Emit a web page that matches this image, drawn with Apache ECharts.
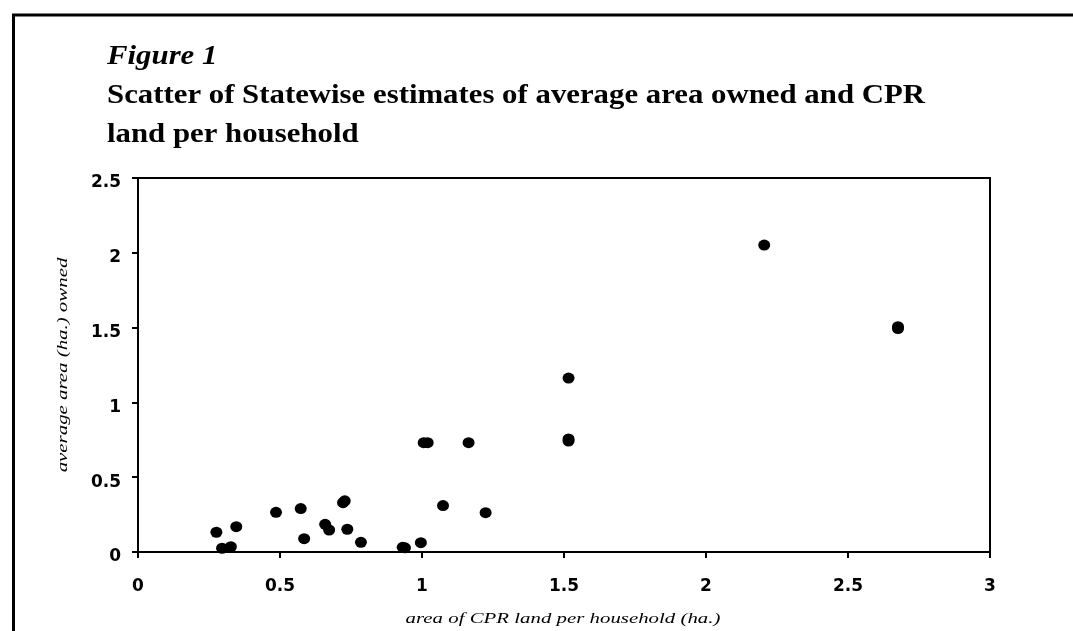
<!DOCTYPE html>
<html>
<head>
<meta charset="utf-8">
<script src="https://cdn.jsdelivr.net/npm/echarts@6/dist/echarts.min.js"></script>
<style>
html,body{margin:0;padding:0;background:#fff;}
#chart{width:1073px;height:631px;}
</style>
</head>
<body>
<div id="chart"></div>
<script>
// CPR land per household (ha.) — x values
var cprLand = [0.276, 0.346, 0.296, 0.327, 0.486, 0.573, 0.585, 0.659, 0.673, 0.722, 0.728, 0.737, 0.785, 0.932, 0.940, 0.996, 1.006, 1.020, 1.074, 1.164, 1.224, 1.516, 1.516, 1.516, 2.205, 2.676, 2.676];
// average area owned (ha.) — y values
var areaOwned = [0.132, 0.169, 0.025, 0.035, 0.265, 0.290, 0.089, 0.185, 0.147, 0.330, 0.342, 0.152, 0.065, 0.031, 0.028, 0.062, 0.731, 0.731, 0.310, 0.731, 0.263, 0.742, 0.756, 1.163, 2.052, 1.494, 1.506];
var xTicks = [0, 0.5, 1, 1.5, 2, 2.5, 3];
var yTicks = [0, 0.5, 1, 1.5, 2, 2.5];
var figureLabel = 'Figure 1';
var titleLines = ['Scatter of Statewise estimates of average area owned and CPR', 'land per household'];
var xName = 'area of CPR land per household (ha.)';
var yName = 'average area (ha.) owned';

var points = cprLand.map(function (x, i) { return [x, areaOwned[i]]; });

var chart = echarts.init(document.getElementById('chart'), null, {renderer: 'canvas'});
var serif = '"Liberation Serif", "Times New Roman", serif';
var sans = '"DejaVu Sans", Arial, sans-serif';

function txt(text, x, y, opts) {
  return {
    type: 'text', x: x, y: y, silent: true,
    scaleX: opts.scaleX || 1, rotation: opts.rotation || 0,
    style: {
      text: text, fill: '#000',
      fontFamily: serif, fontSize: opts.fontSize, fontWeight: opts.fontWeight || 'normal',
      fontStyle: opts.fontStyle || 'normal',
      align: opts.align || 'left', verticalAlign: 'middle'
    }
  };
}

chart.setOption({
  backgroundColor: '#ffffff',
  animation: false,
  graphic: [
    {type: 'line', shape: {x1: 12, y1: 15, x2: 1073, y2: 15}, style: {stroke: '#000', lineWidth: 3}, silent: true},
    {type: 'line', shape: {x1: 13.5, y1: 14, x2: 13.5, y2: 631}, style: {stroke: '#000', lineWidth: 3}, silent: true},
    txt(figureLabel, 107, 57, {fontSize: 28, fontWeight: 'bold', fontStyle: 'italic', scaleX: 1.1}),
    txt(titleLines[0], 107, 96, {fontSize: 28, fontWeight: 'bold', scaleX: 1.1}),
    txt(titleLines[1], 107, 135, {fontSize: 28, fontWeight: 'bold', scaleX: 1.1}),
    txt(xName, 563, 619, {fontSize: 15, fontStyle: 'italic', align: 'center', scaleX: 1.39}),
    txt(yName, 63, 365, {fontSize: 15, fontStyle: 'italic', align: 'center', scaleX: 1.39, rotation: Math.PI / 2})
  ],
  grid: {left: 138, top: 178, width: 852, height: 374, show: true, borderColor: '#000', borderWidth: 2, backgroundColor: 'transparent'},
  xAxis: {
    type: 'value', min: xTicks[0], max: xTicks[xTicks.length - 1], interval: 0.5,
    axisLine: {show: true, onZero: false, lineStyle: {color: '#000', width: 2}},
    axisTick: {show: true, inside: false, length: 6, lineStyle: {color: '#000', width: 2}},
    axisLabel: {fontFamily: sans, fontWeight: 'bold', fontSize: 17, color: '#000', margin: 26},
    splitLine: {show: false}
  },
  yAxis: {
    type: 'value', min: yTicks[0], max: yTicks[yTicks.length - 1], interval: 0.5,
    axisLine: {show: true, onZero: false, lineStyle: {color: '#000', width: 2}},
    axisTick: {show: true, inside: false, length: 6, lineStyle: {color: '#000', width: 2}},
    axisLabel: {fontFamily: sans, fontWeight: 'bold', fontSize: 17, color: '#000', margin: 17, verticalAlign: 'top', lineHeight: 10},
    splitLine: {show: false}
  },
  series: [{
    type: 'scatter',
    data: points,
    symbol: 'circle',
    symbolSize: [12, 11],
    itemStyle: {color: '#000', opacity: 1}
  }]
});
</script>
</body>
</html>
